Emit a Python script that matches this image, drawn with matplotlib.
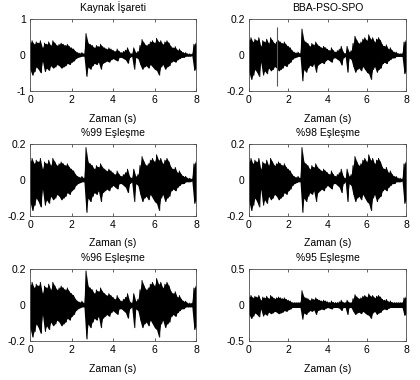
import numpy as np
import matplotlib
matplotlib.use("Agg")
import matplotlib.pyplot as plt

# envelope of the speech waveform, read every 0.1 s from the "%99" panel
t_frames = np.linspace(0, 8, 81)
env_up = [0.10, 0.12, 0.09, 0.11, 0.10, 0.12, 0.06, 0.10, 0.09, 0.11,
          0.08, 0.12, 0.10, 0.08, 0.09, 0.10, 0.09, 0.08, 0.09, 0.07,
          0.06, 0.05, 0.03, 0.02, 0.015, 0.02, 0.01, 0.18, 0.10, 0.09,
          0.08, 0.06, 0.08, 0.07, 0.09, 0.07, 0.06, 0.05, 0.06, 0.05,
          0.04, 0.03, 0.05, 0.03, 0.02, 0.03, 0.04, 0.06, 0.02, 0.01,
          0.06, 0.02, 0.03, 0.08, 0.13, 0.10, 0.08, 0.09, 0.11, 0.12,
          0.10, 0.14, 0.11, 0.12, 0.09, 0.11, 0.12, 0.10, 0.07, 0.06,
          0.07, 0.04, 0.05, 0.03, 0.02, 0.02, 0.01, 0.01, 0.005, 0.09,
          0.10]
env_low = [-0.12, -0.17, -0.14, -0.10, -0.12, -0.15, -0.05, -0.14, -0.11, -0.13,
           -0.09, -0.11, -0.10, -0.08, -0.09, -0.11, -0.10, -0.09, -0.07, -0.08,
           -0.06, -0.05, -0.03, -0.02, -0.015, -0.01, -0.01, -0.18, -0.10, -0.12,
           -0.09, -0.07, -0.08, -0.06, -0.12, -0.07, -0.06, -0.05, -0.06, -0.04,
           -0.03, -0.04, -0.05, -0.02, -0.02, -0.03, -0.04, -0.07, -0.02, -0.01,
           -0.12, -0.02, -0.03, -0.08, -0.12, -0.10, -0.09, -0.11, -0.08, -0.10,
           -0.12, -0.13, -0.17, -0.10, -0.08, -0.12, -0.10, -0.09, -0.06, -0.05,
           -0.06, -0.04, -0.03, -0.02, -0.02, -0.01, -0.01, -0.01, -0.005, -0.13,
           -0.11]

titles = ["Kaynak İşareti", "BBA-PSO-SPO", "%99 Eşleşme",
          "%98 Eşleşme", "%96 Eşleşme", "%95 Eşleşme"]
gains = [3.3, 0.8, 1.0, 1.0, 1.05, 1.1]
noise_floor = [0.02, 0.008, 0.005, 0.006, 0.01, 0.035]
y_limits = [1, 0.2, 0.2, 0.2, 0.2, 0.5]
y_ticks = [[-1, 0, 1], [-0.2, 0, 0.2], [-0.2, 0, 0.2],
           [-0.2, 0, 0.2], [-0.2, 0, 0.2], [-0.5, 0, 0.5]]
y_ticklabels = [["-1", "0", "1"], ["-0.2", "0", "0.2"], ["-0.2", "0", "0.2"],
                ["-0.2", "0", "0.2"], ["-0.2", "0", "0.2"], ["-0.5", "0", "0.5"]]
x_ticks = [0, 2, 4, 6, 8]

# single-sample glitch in BBA-PSO-SPO output
glitch_t = 1.44
glitch_y = (-0.171, 0.153)

plt.rcParams['font.family'] = ['Liberation Sans', 'DejaVu Sans']
fig = plt.figure(figsize=(4.2, 3.8), dpi=100)

col_x = [(30, 166), (249, 157)]
row_bottom = [91, 216, 341]
ax_h = 72

up = np.array(env_up)
low = np.array(env_low)
xs = np.column_stack([t_frames, t_frames + 0.05]).ravel()

for i, title in enumerate(titles):
    r, c = divmod(i, 2)
    x0, w = col_x[c]
    ax = fig.add_axes([x0 / 420, 1 - row_bottom[r] / 380, w / 420, ax_h / 380])
    u = np.maximum(up * gains[i], noise_floor[i])
    l = np.minimum(low * gains[i], -noise_floor[i])
    # solid body of the waveform plus the zig-zag for the spiky edges
    ax.fill_between(t_frames, l, u, color='black', lw=0)
    ys = np.column_stack([u, l]).ravel()
    ax.plot(xs, ys, color='black', lw=0.7)
    if i == 1:
        ax.vlines(glitch_t, glitch_y[0], glitch_y[1], color='0.35', lw=0.8)
    ax.set_xlim(0, 8)
    ax.set_ylim(-y_limits[i], y_limits[i])
    ax.set_xticks(x_ticks)
    ax.set_yticks(y_ticks[i])
    ax.set_yticklabels(y_ticklabels[i])
    ax.tick_params(direction='in', top=True, right=True, length=2.5,
                   width=0.5, labelsize=7.5, pad=3, colors='0.15')
    ax.tick_params(labelcolor='black')
    for s in ax.spines.values():
        s.set_linewidth(0.6)
        s.set_color('0.3')
    ax.set_title(title, fontsize=7.5, pad=6)
    ax.set_xlabel("Zaman (s)", fontsize=7.5, labelpad=6)

fig.savefig("out.png", dpi=100)
